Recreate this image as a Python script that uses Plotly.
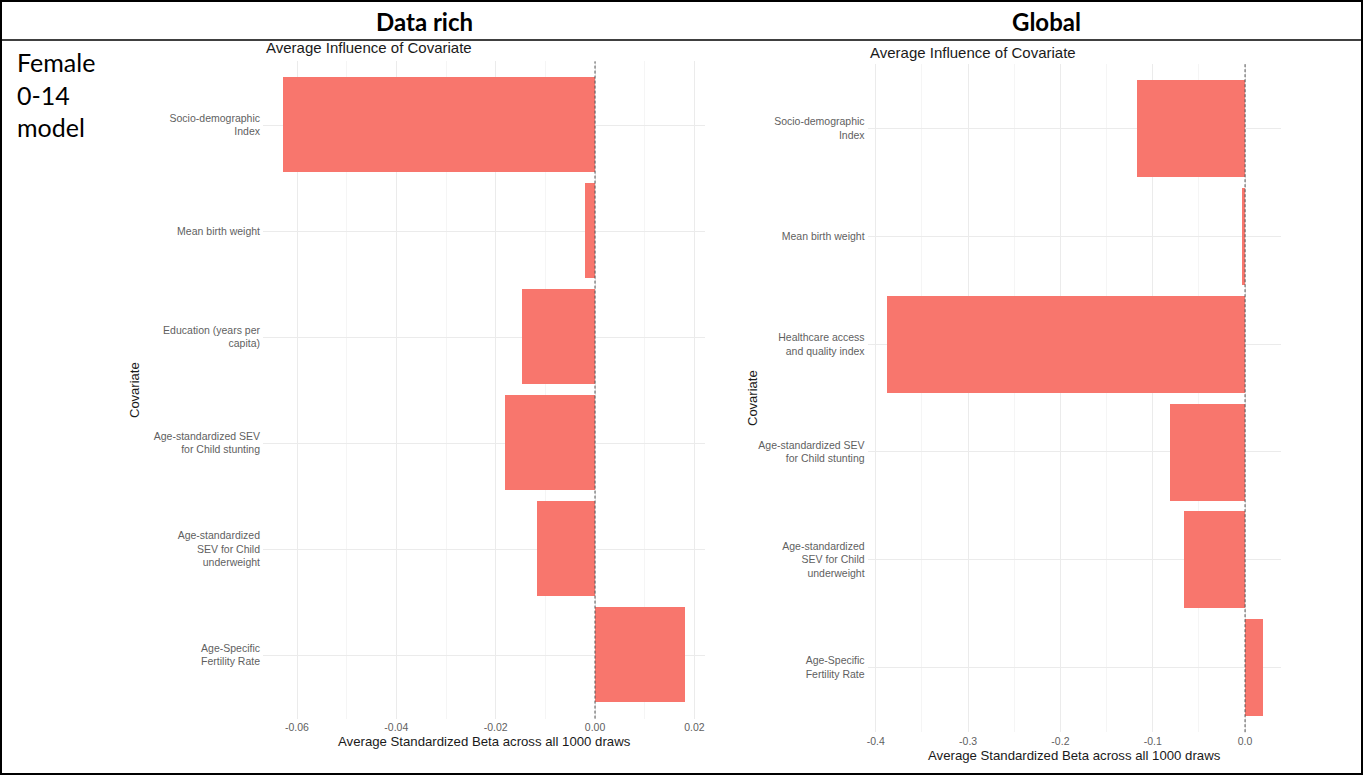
import plotly.graph_objects as go

W, H = 1363, 775

# ---------------- data ----------------
categories_left = [
    "Socio-demographic<br>Index",
    "Mean birth weight",
    "Education (years per<br>capita)",
    "Age-standardized SEV<br>for Child stunting",
    "Age-standardized<br>SEV for Child<br>underweight",
    "Age-Specific<br>Fertility Rate",
]
values_left = [-0.0628, -0.0021, -0.0146, -0.0182, -0.0116, 0.0181]

categories_right = [
    "Socio-demographic<br>Index",
    "Mean birth weight",
    "Healthcare access<br>and quality index",
    "Age-standardized SEV<br>for Child stunting",
    "Age-standardized<br>SEV for Child<br>underweight",
    "Age-Specific<br>Fertility Rate",
]
values_right = [-0.117, -0.004, -0.3885, -0.082, -0.067, 0.019]

ticks_left = [-0.06, -0.04, -0.02, 0.0, 0.02]
ticklabels_left = ["-0.06", "-0.04", "-0.02", "0.00", "0.02"]
ticks_right = [-0.4, -0.3, -0.2, -0.1, 0.0]
ticklabels_right = ["-0.4", "-0.3", "-0.2", "-0.1", "0.0"]

col_headers = ["Data rich", "Global"]
row_label = "Female<br>0-14<br>model"
chart_title = "Average Influence of Covariate"
x_title = "Average Standardized Beta across all 1000 draws"
y_title = "Covariate"

BAR = "#F8766D"
CHART_FONT = "Liberation Sans, Arial, sans-serif"
TABLE_FONT = "Lato, Carlito, Calibri, sans-serif"


def px(x):
    return x / W


def py(y):
    return 1 - y / H


def expand(vals):
    lo, hi = min(min(vals), 0), max(max(vals), 0)
    r = hi - lo
    return [lo - 0.05 * r, hi + 0.05 * r]


fig = go.Figure()
fig.add_trace(go.Bar(x=values_left, y=categories_left, orientation="h",
                     marker=dict(color=BAR, line=dict(width=0)), width=0.9,
                     xaxis="x", yaxis="y", showlegend=False, hoverinfo="x+y"))
fig.add_trace(go.Bar(x=values_right, y=categories_right, orientation="h",
                     marker=dict(color=BAR, line=dict(width=0)), width=0.9,
                     xaxis="x2", yaxis="y2", showlegend=False, hoverinfo="x+y"))

tickfont = dict(family=CHART_FONT, size=10.5, color="#5f5f5f")
n = len(categories_left)

common_x = dict(showgrid=True, gridcolor="#ebebeb", gridwidth=1, zeroline=False,
                showline=False, ticks="", tickfont=tickfont, fixedrange=True)
common_y = dict(type="category", showgrid=True, gridcolor="#ebebeb", gridwidth=1,
                zeroline=False, showline=False, ticks="", tickfont=tickfont,
                range=[n - 1 + 0.6, -0.6], ticklabelstandoff=2, fixedrange=True)

fig.update_layout(
    width=W, height=H, autosize=False,
    margin=dict(l=0, r=0, t=0, b=0),
    paper_bgcolor="white", plot_bgcolor="white",
    bargap=0,
    xaxis=dict(domain=[px(263), px(705)], range=expand(values_left),
               tickvals=ticks_left, ticktext=ticklabels_left, anchor="y",
               minor=dict(dtick=0.01, tick0=0, showgrid=True, gridcolor="#f5f5f5"),
               ticklabelstandoff=1, **common_x),
    yaxis=dict(domain=[py(718.6), py(61.4)], anchor="x",
               categoryorder="array", categoryarray=categories_left, **common_y),
    xaxis2=dict(domain=[px(867.6), px(1281.4)], range=expand(values_right),
                tickvals=ticks_right, ticktext=ticklabels_right, anchor="y2",
                minor=dict(dtick=0.05, tick0=0, showgrid=True, gridcolor="#f5f5f5"),
                ticklabelstandoff=1, **common_x),
    yaxis2=dict(domain=[py(732.2), py(63.8)], anchor="x2",
                categoryorder="array", categoryarray=categories_right, **common_y),
)

# zero reference lines
for xr, yr in (("x", "y domain"), ("x2", "y2 domain")):
    fig.add_shape(type="line", xref=xr, yref=yr, x0=0, x1=0, y0=0, y1=1,
                  line=dict(color="#555555", width=1, dash="3px,2px"), layer="above")

ann = []
# chart titles
ann.append(dict(x=px(264), y=py(48), text=chart_title, xanchor="left", yanchor="middle",
                font=dict(family=CHART_FONT, size=15, color="#1a1a1a")))
ann.append(dict(x=px(868), y=py(52), text=chart_title, xanchor="left", yanchor="middle",
                font=dict(family=CHART_FONT, size=15, color="#1a1a1a")))
# x-axis titles
ann.append(dict(x=px(484), y=py(741), text=x_title, xanchor="center", yanchor="middle",
                font=dict(family=CHART_FONT, size=13.2, color="#1a1a1a")))
ann.append(dict(x=px(1074.5), y=py(755), text=x_title, xanchor="center", yanchor="middle",
                font=dict(family=CHART_FONT, size=13.2, color="#1a1a1a")))
# y-axis titles
ann.append(dict(x=px(135), y=py(390), text=y_title, textangle=-90, xanchor="center",
                yanchor="middle", font=dict(family=CHART_FONT, size=13, color="#1a1a1a")))
ann.append(dict(x=px(752), y=py(398), text=y_title, textangle=-90, xanchor="center",
                yanchor="middle", font=dict(family=CHART_FONT, size=13, color="#1a1a1a")))
# table header
ann.append(dict(x=px(424), y=py(21), text="<b>%s</b>" % col_headers[0], xanchor="center",
                yanchor="middle", font=dict(family=TABLE_FONT, size=24, color="black")))
ann.append(dict(x=px(1046), y=py(21), text="<b>%s</b>" % col_headers[1], xanchor="center",
                yanchor="middle", font=dict(family=TABLE_FONT, size=24, color="black")))
# row label
ann.append(dict(x=px(15), y=py(45), text=row_label, xanchor="left", yanchor="top",
                align="left", font=dict(family=TABLE_FONT, size=25, color="black")))

for a in ann:
    a.update(xref="paper", yref="paper", showarrow=False)
fig.update_layout(annotations=ann)

# table borders
border = dict(color="black", width=2)
fig.add_shape(type="rect", xref="paper", yref="paper", x0=px(1), x1=px(1362), y0=py(774),
              y1=py(1), line=border, layer="above")
fig.add_shape(type="line", xref="paper", yref="paper", x0=px(1), x1=px(1362), y0=py(40),
              y1=py(40), line=dict(color="black", width=1.5), layer="below")

fig.write_html(
    "out.html",
    config=dict(displayModeBar=False),
    post_script="document.body.style.margin='0';document.body.style.overflow='hidden';",
)
